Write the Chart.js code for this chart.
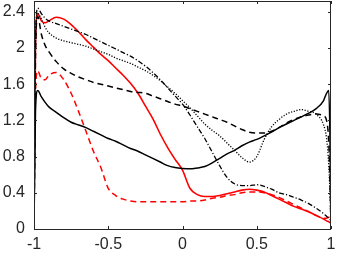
<!DOCTYPE html>
<html><head><meta charset="utf-8">
<script src="https://cdn.jsdelivr.net/npm/chart.js@4"></script>
<style>html,body{margin:0;padding:0;background:#fff}canvas{display:block}</style>
</head><body>
<canvas id="c" width="338" height="254"></canvas>
<script>
const xs = [-1, -0.99, -0.975, -0.95, -0.925, -0.9, -0.85, -0.8, -0.75, -0.7, -0.65, -0.6, -0.55, -0.5, -0.45, -0.4, -0.35, -0.3, -0.25, -0.2, -0.15, -0.1, -0.05, 0, 0.05, 0.1, 0.15, 0.2, 0.25, 0.3, 0.35, 0.4, 0.45, 0.5, 0.55, 0.6, 0.65, 0.7, 0.75, 0.8, 0.85, 0.9, 0.95, 0.97, 0.985, 0.995, 1];

const blackSolid = [0, 1.3, 1.53, 1.46, 1.4, 1.35, 1.29, 1.23, 1.18, 1.15, 1.12, 1.08, 1.04, 1.0, 0.97, 0.93, 0.89, 0.86, 0.82, 0.78, 0.74, 0.7, 0.68, 0.67, 0.665, 0.675, 0.69, 0.73, 0.78, 0.83, 0.87, 0.92, 0.96, 0.99, 1.03, 1.07, 1.12, 1.16, 1.2, 1.24, 1.28, 1.33, 1.42, 1.5, 1.53, 0.8, 0];

const blackDashed = [0, 1.9, 2.35, 2.15, 2.03, 1.96, 1.85, 1.77, 1.72, 1.68, 1.65, 1.62, 1.6, 1.58, 1.56, 1.54, 1.52, 1.51, 1.5, 1.47, 1.44, 1.41, 1.38, 1.36, 1.33, 1.3, 1.27, 1.24, 1.21, 1.18, 1.14, 1.1, 1.07, 1.06, 1.06, 1.08, 1.12, 1.17, 1.21, 1.24, 1.26, 1.27, 1.25, 1.2, 0.95, 0.4, 0];

const blackDotted = [0, 2.0, 2.38, 2.32, 2.23, 2.17, 2.11, 2.08, 2.06, 2.04, 2.02, 1.99, 1.96, 1.93, 1.89, 1.86, 1.83, 1.79, 1.75, 1.7, 1.64, 1.57, 1.5, 1.42, 1.34, 1.25, 1.16, 1.09, 1.03, 0.95, 0.87, 0.79, 0.74, 0.8, 0.99, 1.13, 1.21, 1.27, 1.3, 1.32, 1.3, 1.27, 1.15, 1.0, 0.7, 0.3, 0];

const blackDashDot = [0, 2.1, 2.44, 2.38, 2.33, 2.3, 2.27, 2.24, 2.21, 2.18, 2.15, 2.11, 2.07, 2.03, 1.99, 1.95, 1.91, 1.86, 1.8, 1.73, 1.65, 1.56, 1.47, 1.38, 1.26, 1.13, 1.0, 0.85, 0.7, 0.57, 0.5, 0.48, 0.48, 0.49, 0.47, 0.44, 0.4, 0.38, 0.35, 0.32, 0.28, 0.23, 0.17, 0.14, 0.12, 0.1, 0];

const redSolid = [0, 2.0, 2.38, 2.3, 2.28, 2.3, 2.34, 2.32, 2.26, 2.18, 2.09, 2.01, 1.93, 1.86, 1.78, 1.7, 1.61, 1.5, 1.36, 1.22, 1.05, 0.9, 0.77, 0.65, 0.45, 0.38, 0.36, 0.36, 0.37, 0.39, 0.41, 0.43, 0.44, 0.43, 0.41, 0.37, 0.33, 0.29, 0.25, 0.22, 0.19, 0.15, 0.11, 0.09, 0.08, 0.07, 0.07];

const redDashed = [0, 1.5, 1.75, 1.66, 1.65, 1.7, 1.73, 1.65, 1.5, 1.3, 1.08, 0.86, 0.68, 0.45, 0.37, 0.33, 0.31, 0.3, 0.3, 0.3, 0.3, 0.3, 0.3, 0.3, 0.31, 0.31, 0.32, 0.34, 0.35, 0.37, 0.38, 0.4, 0.41, 0.41, 0.4, 0.38, 0.35, 0.31, 0.27, 0.23, 0.19, 0.15, 0.12, 0.12, 0.13, 0.12, 0.1];

const xTicks = [-1, -0.5, 0, 0.5, 1];
const yTicks = [0, 0.4, 0.8, 1.2, 1.6, 2, 2.4];
const yMax = 2.52;

function pts(ys){ return xs.map((x,i)=>({x:x, y:ys[i]})); }
function ds(ys, color, dash, width){
  return {data: pts(ys), borderColor: color, borderWidth: width||1.5, borderDash: dash||[],
    pointRadius: 0, fill: false, cubicInterpolationMode: 'monotone'};
}

const frame = {
  id: 'frame',
  afterDraw(chart){
    const {ctx, chartArea:a, scales:{x, y}} = chart;
    ctx.save();
    ctx.strokeStyle = '#262626';
    ctx.lineWidth = 1;
    ctx.setLineDash([]);
    ctx.strokeRect(a.left + 0.5, a.top + 0.5, a.right - a.left - 1, a.bottom - a.top);
    const L = 3;
    ctx.beginPath();
    xTicks.forEach(v => {
      const p = Math.round(x.getPixelForValue(v)) + 0.5;
      ctx.moveTo(p, a.bottom); ctx.lineTo(p, a.bottom - L);
      ctx.moveTo(p, a.top); ctx.lineTo(p, a.top + L);
    });
    yTicks.forEach(v => {
      const p = Math.round(y.getPixelForValue(v)) + 0.5;
      ctx.moveTo(a.left, p); ctx.lineTo(a.left + L, p);
      ctx.moveTo(a.right, p); ctx.lineTo(a.right - L, p);
    });
    ctx.stroke();
    ctx.restore();
  }
};

function noPad(s){ s.paddingTop = 0; s.paddingBottom = 0; s.paddingLeft = 0; s.paddingRight = 0; }

new Chart(document.getElementById('c'), {
  type: 'line',
  data: {
    datasets: [
      ds(blackSolid, '#000000', [], 1.5),
      ds(blackDashed, '#000000', [6, 4], 1.5),
      ds(blackDotted, '#000000', [1.2, 1.6], 1.3),
      ds(blackDashDot, '#000000', [5, 2, 1.2, 2], 1.3),
      ds(redDashed, '#ff0000', [6, 4], 1.5),
      ds(redSolid, '#ff0000', [], 1.6)
    ]
  },
  options: {
    responsive: false,
    animation: false,
    events: [],
    layout: {padding: {left: 0, right: 7, top: 1, bottom: 0}},
    plugins: {legend: {display: false}, tooltip: {enabled: false}},
    scales: {
      x: {
        type: 'linear', min: -1, max: 1,
        afterBuildTicks: s => { s.ticks = xTicks.map(v => ({value: v})); },
        afterFit: s => { s.height = 25; noPad(s); },
        grid: {display: false, drawTicks: false},
        border: {display: false},
        ticks: {padding: 6, color: '#262626', font: {family: 'Liberation Sans, Arial, sans-serif', size: 16},
          callback: v => String(v), maxRotation: 0, autoSkip: false}
      },
      y: {
        type: 'linear', min: 0, max: yMax,
        afterBuildTicks: s => { s.ticks = yTicks.map(v => ({value: v})); },
        afterFit: s => { s.width = 34; noPad(s); },
        grid: {display: false, drawTicks: false},
        border: {display: false},
        ticks: {padding: 9, color: '#262626', font: {family: 'Liberation Sans, Arial, sans-serif', size: 16},
          callback: v => String(Math.round(v * 10) / 10), autoSkip: false}
      }
    }
  },
  plugins: [frame]
});
</script>
</body></html>
